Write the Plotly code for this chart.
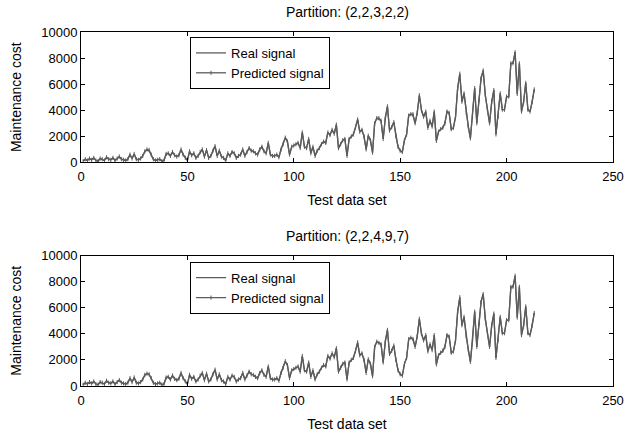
import plotly.graph_objects as go
from plotly.subplots import make_subplots

# ---- data ----
real_signal = [
    100, 250, 150, 300, 200, 350, 150, 100, 300, 250,
    150, 400, 250, 200, 350, 150, 300, 450, 250, 200,
    150, 250, 600, 300, 650, 250, 200, 300, 500, 850,
    950, 900, 600, 250, 150, 200, 250, 100, 150, 650,
    700, 500, 800, 550, 450, 550, 1000, 600, 350, 150,
    850, 550, 700, 350, 500, 800, 1000, 450, 950, 350,
    500, 900, 1250, 500, 900, 450, 350, 150, 700, 500,
    800, 700, 350, 500, 600, 1000, 500, 800, 1100, 900,
    850, 700, 600, 1000, 1200, 850, 700, 1500, 600, 500,
    500, 600, 400, 1000, 1400, 1900, 1600, 600, 1200, 1300,
    1400, 1500, 1100, 2300, 1200, 1100, 1800, 700, 1200, 500,
    900, 1100, 1400, 1600, 1500, 2300, 2100, 2500, 2200, 2900,
    1100, 1400, 1700, 1800, 500, 1800, 2000, 2150, 2700, 3300,
    2350, 2500, 2000, 1000, 2050, 1700, 750, 3000, 3400, 3300,
    3200, 1800, 3400, 4300, 2450, 2700, 3100, 2000, 1200, 900,
    800, 1700, 2150, 3600, 3700, 3600, 3000, 3800, 5150, 4000,
    3500, 3900, 2650, 3200, 2750, 3900, 1650, 2350, 2550, 2650,
    3000, 3900, 3800, 2550, 2650, 3500, 5700, 6800, 4650, 5300,
    3800, 2750, 1850, 3500, 5700, 3000, 4750, 6450, 7050, 5150,
    4050, 3000, 4650, 5550, 2150, 3500, 5300, 4050, 4050, 5050,
    5050, 7600, 7600, 8450, 5250, 7600, 3900, 4650, 6100, 4050,
    3900, 4650, 5600,
]

predicted_top = [
    100, 250, 150, 300, 200, 350, 150, 100, 300, 250,
    150, 400, 250, 200, 350, 150, 300, 450, 250, 200,
    150, 250, 600, 300, 650, 250, 200, 300, 500, 850,
    1000, 950, 600, 250, 150, 200, 250, 100, 150, 650,
    700, 500, 800, 550, 450, 550, 1000, 600, 350, 150,
    850, 550, 700, 350, 500, 800, 1000, 450, 950, 350,
    500, 900, 1250, 500, 900, 450, 350, 150, 700, 500,
    800, 700, 350, 500, 600, 1000, 500, 800, 1100, 900,
    850, 700, 600, 1000, 1200, 850, 700, 1500, 600, 500,
    500, 600, 400, 1000, 1400, 1900, 1600, 600, 1200, 1300,
    1400, 1500, 1100, 2300, 1200, 1100, 1800, 700, 1200, 500,
    900, 1100, 1400, 1600, 1500, 2300, 2100, 2500, 2200, 2900,
    1100, 1400, 1700, 1800, 500, 1800, 2000, 2150, 2700, 3300,
    2350, 2500, 2000, 1000, 2050, 1700, 750, 3000, 3400, 3400,
    3200, 1800, 3400, 4300, 2450, 2700, 3100, 2000, 1200, 900,
    800, 1700, 2150, 3600, 3700, 3700, 3000, 3800, 5150, 4000,
    3500, 3900, 2650, 3200, 2750, 3900, 1650, 2350, 2550, 2650,
    3000, 3900, 3800, 2550, 2650, 3500, 5700, 6800, 4650, 5300,
    3800, 2750, 1850, 3500, 5700, 3000, 4750, 6450, 7050, 5150,
    4050, 3000, 4650, 5550, 2150, 3500, 5300, 4050, 4050, 5050,
    5050, 7600, 7600, 8450, 5250, 7600, 3900, 4650, 6100, 4050,
    3900, 4650, 5600,
]

predicted_bottom = [
    100, 250, 150, 300, 200, 350, 150, 100, 300, 250,
    150, 400, 250, 200, 350, 150, 300, 450, 250, 200,
    150, 250, 600, 300, 650, 250, 200, 300, 500, 850,
    950, 900, 600, 250, 150, 200, 250, 100, 150, 650,
    700, 500, 800, 550, 450, 550, 1000, 600, 350, 150,
    850, 550, 700, 350, 500, 800, 1000, 450, 950, 350,
    500, 900, 1250, 500, 900, 450, 350, 150, 700, 500,
    800, 700, 350, 500, 600, 1000, 500, 800, 1100, 900,
    850, 700, 600, 1000, 1200, 850, 700, 1500, 600, 500,
    500, 600, 400, 1000, 1400, 1900, 1600, 600, 1200, 1300,
    1400, 1500, 1100, 2300, 1200, 1100, 1800, 700, 1200, 500,
    900, 1100, 1400, 1600, 1500, 2300, 2100, 2500, 2200, 2900,
    1100, 1400, 1700, 1800, 500, 1800, 2000, 2150, 2700, 3350,
    2350, 2500, 2000, 1000, 2050, 1700, 750, 3000, 3400, 3300,
    3200, 1800, 3400, 4300, 2450, 2700, 3100, 2000, 1200, 900,
    800, 1700, 2150, 3600, 3700, 3600, 3000, 3800, 5150, 4000,
    3500, 3900, 2650, 3200, 2750, 3900, 1650, 2350, 2550, 2700,
    3000, 3900, 3800, 2550, 2650, 3500, 5700, 6800, 4650, 5300,
    3800, 2750, 1850, 3500, 5700, 3000, 4750, 6450, 7050, 5150,
    4050, 3000, 4650, 5550, 2150, 3500, 5300, 4050, 4050, 5050,
    5050, 7600, 7600, 8450, 5250, 7600, 3900, 4650, 6100, 4050,
    3900, 4650, 5600,
]

x_values = list(range(1, len(real_signal) + 1))
subplot_titles = ["Partition: (2,2,3,2,2)", "Partition: (2,2,4,9,7)"]
x_ticks = [0, 50, 100, 150, 200, 250]
y_ticks = [0, 2000, 4000, 6000, 8000, 10000]
y_tick_labels = ["0", "2000", "4000", "6000", "8000", "10000"]

LINE = "#5c5c5c"
FONT = "Liberation Sans, Arial, sans-serif"

fig = make_subplots(rows=2, cols=1, vertical_spacing=0.263)

for row, pred in ((1, predicted_top), (2, predicted_bottom)):
    leg = "legend" if row == 1 else "legend2"
    fig.add_trace(go.Scatter(x=x_values, y=real_signal, mode="lines",
                             name="Real signal",
                             line=dict(color=LINE, width=1.3),
                             legend=leg), row=row, col=1)
    fig.add_trace(go.Scatter(x=x_values, y=pred, mode="lines+markers",
                             name="Predicted signal",
                             line=dict(color=LINE, width=1.3),
                             marker=dict(symbol="line-ns", size=3,
                                         line=dict(color=LINE, width=1)),
                             legend=leg), row=row, col=1)

axis_common = dict(showline=True, linecolor="black", linewidth=1,
                   mirror="ticks", ticks="inside", ticklen=4,
                   tickcolor="black", showgrid=False, zeroline=False,
                   automargin=False,
                   tickfont=dict(family=FONT, size=13, color="black"))

for row in (1, 2):
    fig.update_xaxes(range=[0, 250], tickvals=x_ticks, **axis_common,
                     ticklabelstandoff=2,
                     title=dict(text="Test data set", standoff=12,
                                font=dict(family=FONT, size=14, color="black")),
                     row=row, col=1)
    fig.update_yaxes(range=[0, 10000], tickvals=y_ticks,
                     ticktext=y_tick_labels, **axis_common,
                     title=dict(text="Maintenance cost", standoff=16,
                                font=dict(family=FONT, size=14, color="black")),
                     row=row, col=1)

for i, t in enumerate(subplot_titles):
    xr = "x domain" if i == 0 else "x2 domain"
    yr = "y domain" if i == 0 else "y2 domain"
    fig.add_annotation(text=t, xref=xr, yref=yr, x=0.5, y=1,
                       xanchor="center", yanchor="bottom", yshift=10,
                       showarrow=False,
                       font=dict(family=FONT, size=14, color="black"))

legend_common = dict(bgcolor="white", bordercolor="black", borderwidth=1,
                     font=dict(family=FONT, size=13, color="black"),
                     xanchor="left", yanchor="top", tracegroupgap=0,
                     itemwidth=30)

fig.update_layout(
    width=626, height=436,
    margin=dict(l=81, r=13, t=32, b=50),
    paper_bgcolor="white", plot_bgcolor="white",
    showlegend=True,
    legend=dict(**legend_common, x=0.205, y=0.986, xref="paper", yref="paper"),
    legend2=dict(**legend_common, x=0.205, y=0.351, xref="paper", yref="paper"),
)

fig.write_html("out.html",
               config={"displayModeBar": False},
               post_script="document.body.style.margin='0';")
